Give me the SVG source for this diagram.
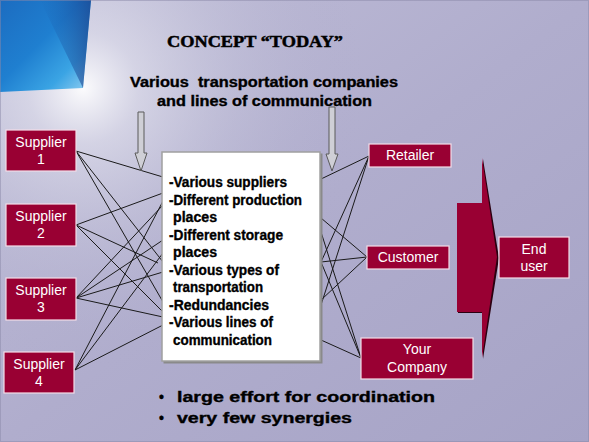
<svg xmlns="http://www.w3.org/2000/svg" width="589" height="442" viewBox="0 0 589 442">
<defs>
<linearGradient id="bg" x1="0" y1="0" x2="1" y2="1">
<stop offset="0" stop-color="#c0bed8"/>
<stop offset="0.5" stop-color="#b0adcd"/>
<stop offset="1" stop-color="#a6a3c6"/>
</linearGradient>
<radialGradient id="glow" cx="83" cy="88" r="280" gradientUnits="userSpaceOnUse">
<stop offset="0" stop-color="#ffffff" stop-opacity="0.95"/>
<stop offset="0.2" stop-color="#e6e6f0" stop-opacity="0.6"/>
<stop offset="0.55" stop-color="#d0d0e2" stop-opacity="0.25"/>
<stop offset="1" stop-color="#a9a6c8" stop-opacity="0"/>
</radialGradient>
<linearGradient id="blue" x1="0" y1="0" x2="1" y2="1">
<stop offset="0" stop-color="#1c6cc0"/>
<stop offset="0.45" stop-color="#1f7fd0"/>
<stop offset="0.75" stop-color="#3aa4e4"/>
<stop offset="1" stop-color="#9ad2f2"/>
</linearGradient>
<linearGradient id="blue2" x1="0" y1="0" x2="1" y2="0">
<stop offset="0" stop-color="#1a58a8" stop-opacity="0"/>
<stop offset="1" stop-color="#183c88" stop-opacity="0.7"/>
</linearGradient>
<style>
.node rect{fill:#990033;stroke:#f4dde8;stroke-width:1.2}
.node text{fill:#ffffff;font-family:"Liberation Sans",Arial,sans-serif;font-size:14px;text-anchor:middle}
.conn line{stroke:#1a1a1a;stroke-width:1}
.darr{fill:#cfcfd6;stroke:#5a5a5a;stroke-width:1}
.body{font-family:"Liberation Sans",Arial,sans-serif;font-weight:bold;font-size:14px;fill:#000;stroke:#000;stroke-width:0.35}
</style>
</defs>
<rect x="0" y="0" width="589" height="442" fill="url(#bg)"/>
<rect x="0" y="0" width="589" height="442" fill="url(#glow)"/>
<polygon points="0,0 91,0 83,88 0,92" fill="url(#blue)"/>
<polygon points="40,0 91,0 83,88" fill="url(#blue2)"/>
<rect x="0.5" y="0.5" width="588" height="441" fill="none" stroke="#8a88a8" stroke-width="1" stroke-dasharray="1,1"/>

<g id="title">
<text x="167" y="47" font-family="'Liberation Serif','Times New Roman',serif" font-weight="bold" font-size="17" stroke="#000" stroke-width="0.5" textLength="176" lengthAdjust="spacingAndGlyphs">CONCEPT “TODAY”</text>
<text class="body" x="130" y="87" font-size="15" textLength="268" lengthAdjust="spacingAndGlyphs" xml:space="preserve">Various  transportation companies</text>
<text class="body" x="157" y="106" font-size="15" textLength="215" lengthAdjust="spacingAndGlyphs">and lines of communication</text>
</g>

<g id="connectors" class="conn">
<line x1="76" y1="151" x2="163" y2="177"/>
<line x1="76" y1="151" x2="163" y2="262"/>
<line x1="76" y1="151" x2="163" y2="302"/>
<line x1="76" y1="225" x2="163" y2="193"/>
<line x1="76" y1="225" x2="158" y2="263"/>
<line x1="76" y1="225" x2="163" y2="312"/>
<line x1="76" y1="298" x2="163" y2="205"/>
<line x1="76" y1="298" x2="163" y2="240"/>
<line x1="76" y1="298" x2="163" y2="272"/>
<line x1="76" y1="298" x2="163" y2="317"/>
<line x1="75" y1="370" x2="163" y2="201"/>
<line x1="75" y1="370" x2="163" y2="253"/>
<line x1="75" y1="370" x2="163" y2="325"/>
<line x1="369" y1="156" x2="321" y2="179"/>
<line x1="369" y1="156" x2="321" y2="262"/>
<line x1="369" y1="156" x2="321" y2="305"/>
<line x1="367" y1="257" x2="321" y2="218"/>
<line x1="367" y1="257" x2="321" y2="262"/>
<line x1="367" y1="257" x2="321" y2="300"/>
<line x1="361" y1="358" x2="321" y2="262"/>
<line x1="361" y1="358" x2="321" y2="232"/>
<line x1="361" y1="358" x2="321" y2="340"/>
</g>

<g id="arrow-left">
<polygon class="darr" points="138,112 144,112 144,153 147,153 141,171 135,153 138,153"/>
</g>
<g id="arrow-right">
<polygon class="darr" points="329,107 335,107 335,154 338,154 332,171 326,154 329,154"/>
</g>

<g id="center-box">
<rect x="163.5" y="153.5" width="159" height="210" fill="#8a8a8a"/>
<rect x="162" y="152" width="158" height="209" fill="#ffffff" stroke="#a0a0a0" stroke-width="1.5"/>
<text class="body" x="169" y="187" textLength="118" lengthAdjust="spacingAndGlyphs">-Various suppliers</text>
<text class="body" x="169" y="204.5" textLength="133" lengthAdjust="spacingAndGlyphs">-Different production</text>
<text class="body" x="173" y="222" textLength="44" lengthAdjust="spacingAndGlyphs">places</text>
<text class="body" x="169" y="239.5" textLength="114" lengthAdjust="spacingAndGlyphs">-Different storage</text>
<text class="body" x="173" y="257" textLength="44" lengthAdjust="spacingAndGlyphs">places</text>
<text class="body" x="169" y="274.5" textLength="110" lengthAdjust="spacingAndGlyphs">-Various types of</text>
<text class="body" x="173" y="292" textLength="90" lengthAdjust="spacingAndGlyphs">transportation</text>
<text class="body" x="169" y="309.5" textLength="100" lengthAdjust="spacingAndGlyphs">-Redundancies</text>
<text class="body" x="169" y="327" textLength="104" lengthAdjust="spacingAndGlyphs">-Various lines of</text>
<text class="body" x="173" y="344.5" textLength="99" lengthAdjust="spacingAndGlyphs">communication</text>
</g>

<g id="supplier-1" class="node">
<rect x="6" y="130" width="70" height="41"/>
<text x="41" y="146.5">Supplier</text>
<text x="41" y="164">1</text>
</g>
<g id="supplier-2" class="node">
<rect x="6" y="204" width="70" height="42"/>
<text x="41" y="220.5">Supplier</text>
<text x="41" y="238">2</text>
</g>
<g id="supplier-3" class="node">
<rect x="6" y="278" width="70" height="42"/>
<text x="41" y="294.5">Supplier</text>
<text x="41" y="312">3</text>
</g>
<g id="supplier-4" class="node">
<rect x="4" y="352" width="70" height="41"/>
<text x="39" y="368.5">Supplier</text>
<text x="39" y="386">4</text>
</g>
<g id="retailer" class="node">
<rect x="369" y="144" width="82" height="23"/>
<text x="410" y="160">Retailer</text>
</g>
<g id="customer" class="node">
<rect x="367" y="246" width="82" height="23"/>
<text x="408" y="262">Customer</text>
</g>
<g id="your-company" class="node">
<rect x="361" y="338" width="112" height="41"/>
<text x="417" y="354">Your</text>
<text x="417" y="372">Company</text>
</g>

<g id="big-arrow">
<polygon points="458,204 483,204 483,159 499,258 483,359 483,313 458,313" fill="#2a0010"/>
<polygon points="457,203 482,203 482,158 497,257 482,358 482,312 457,312" fill="#990033"/>
</g>

<g id="end-user" class="node">
<rect x="499" y="237" width="70" height="41"/>
<text x="534" y="254">End</text>
<text x="534" y="271">user</text>
</g>

<g id="bullets">
<text class="body" x="159" y="402" font-size="19">•</text>
<text class="body" x="177" y="402" font-size="19" stroke-width="0.6" textLength="258" lengthAdjust="spacingAndGlyphs">large effort for coordination</text>
<text class="body" x="159" y="423" font-size="19">•</text>
<text class="body" x="177" y="423" font-size="19" stroke-width="0.6" textLength="175" lengthAdjust="spacingAndGlyphs">very few synergies</text>
</g>
</svg>
